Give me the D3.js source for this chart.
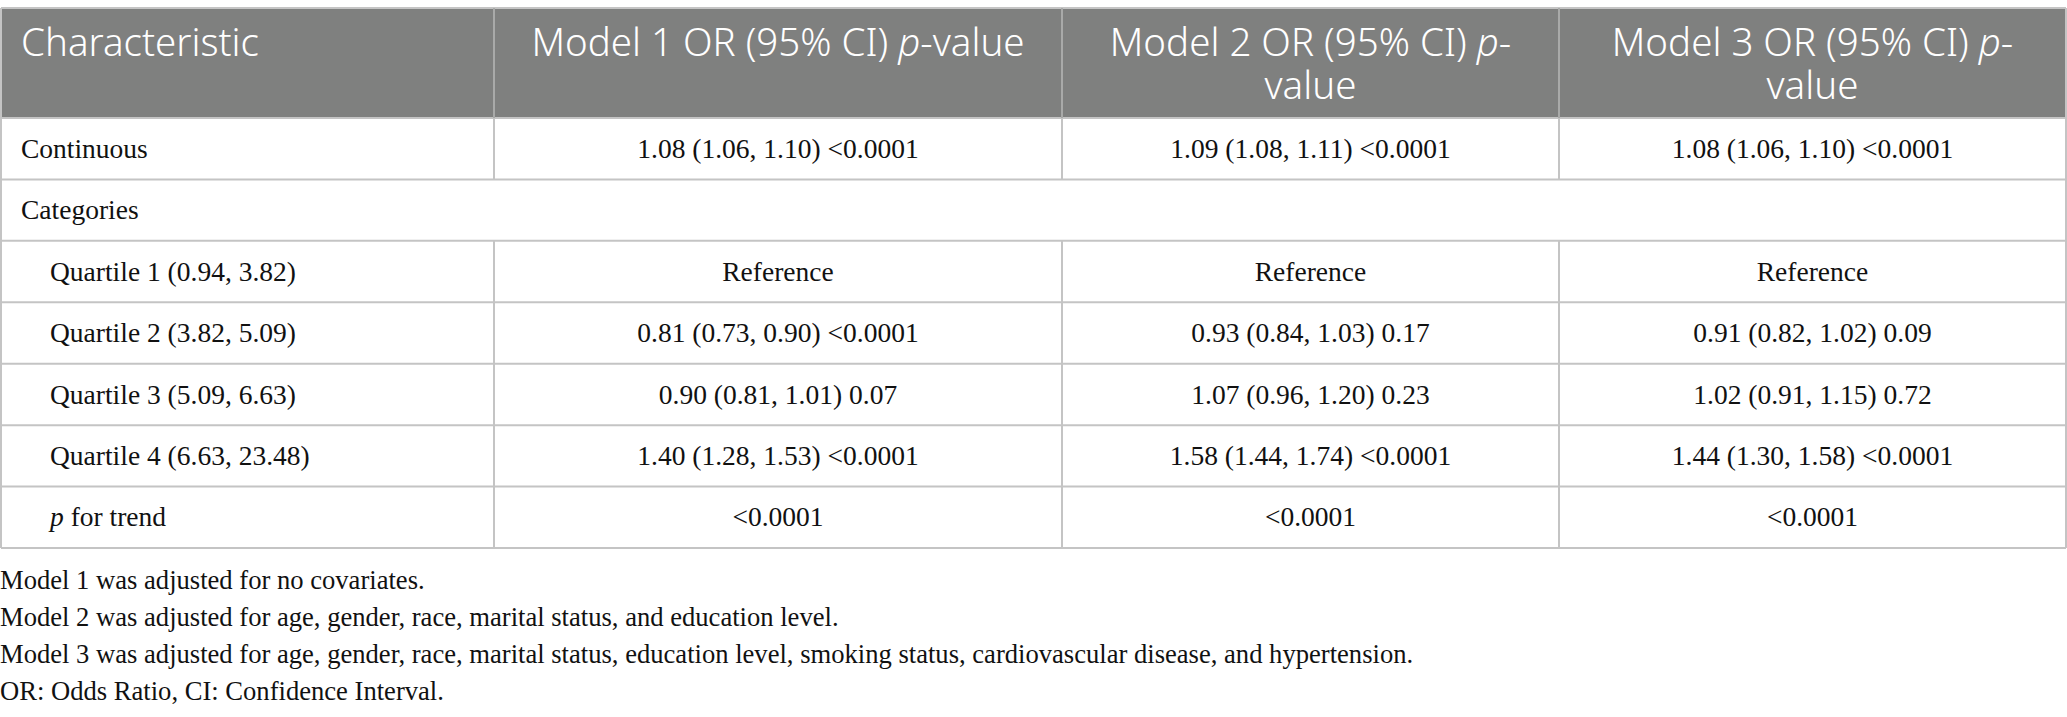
<!DOCTYPE html>
<html>
<head>
<meta charset="utf-8">
<script src="https://cdn.jsdelivr.net/npm/d3@7"></script>
<style>
  html, body { margin: 0; padding: 0; background: #fff; }
  svg { display: block; }
  .head { font-family: "Noto Sans", "Open Sans", sans-serif; font-size: 38.5px; font-weight: 300; fill: #fff; }
  .cell { font-family: "Liberation Serif", "Times New Roman", serif; font-size: 27.5px; fill: #111; }
  .note { font-family: "Liberation Serif", "Times New Roman", serif; font-size: 26.6px; fill: #111; }
</style>
</head>
<body>
<div id="table"></div>
<script>
// header text, *p* marks the italic p
var headers = [
  ["Characteristic"],
  ["Model 1 OR (95% CI) *p*-value"],
  ["Model 2 OR (95% CI) *p*-", "value"],
  ["Model 3 OR (95% CI) *p*-", "value"]
];
var rowLabels = ["Continuous", "Categories", "Quartile 1 (0.94, 3.82)", "Quartile 2 (3.82, 5.09)",
  "Quartile 3 (5.09, 6.63)", "Quartile 4 (6.63, 23.48)", "*p* for trend"];
var indented = [false, false, true, true, true, true, true];
var model1 = ["1.08 (1.06, 1.10) <0.0001", "", "Reference", "0.81 (0.73, 0.90) <0.0001",
  "0.90 (0.81, 1.01) 0.07", "1.40 (1.28, 1.53) <0.0001", "<0.0001"];
var model2 = ["1.09 (1.08, 1.11) <0.0001", "", "Reference", "0.93 (0.84, 1.03) 0.17",
  "1.07 (0.96, 1.20) 0.23", "1.58 (1.44, 1.74) <0.0001", "<0.0001"];
var model3 = ["1.08 (1.06, 1.10) <0.0001", "", "Reference", "0.91 (0.82, 1.02) 0.09",
  "1.02 (0.91, 1.15) 0.72", "1.44 (1.30, 1.58) <0.0001", "<0.0001"];
var spanRows = ["Categories"]; // rows that run across all columns
var footnotes = [
  "Model 1 was adjusted for no covariates.",
  "Model 2 was adjusted for age, gender, race, marital status, and education level.",
  "Model 3 was adjusted for age, gender, race, marital status, education level, smoking status, cardiovascular disease, and hypertension.",
  "OR: Odds Ratio, CI: Confidence Interval."
];

var width = 2067, height = 717;
var headTop = 8, headBottom = 118, tableBottom = 548;
var lineColor = "#c4c4c4";

var svg = d3.select("#table").append("svg")
  .attr("width", width)
  .attr("height", height);

// column edges and row edges
var x = d3.scaleLinear().domain([0, 1, 2, 3, 4]).range([1, 494, 1062, 1559, 2066]);
var y = d3.scaleLinear().domain([0, rowLabels.length]).range([headBottom, tableBottom]);

// writes a string into a text node, turning *p* into italic tspans
function rich(sel, str) {
  str.split(/(\*[^*]+\*)/).forEach(function (part) {
    if (!part) return;
    var italic = part.charAt(0) === "*";
    sel.append("tspan")
      .style("font-style", italic ? "italic" : null)
      .text(italic ? part.slice(1, -1) : part);
  });
}

// header
svg.append("rect")
  .attr("x", x(0)).attr("y", headTop)
  .attr("width", x(4) - x(0)).attr("height", headBottom - headTop)
  .attr("fill", "#7f807f");

headers.forEach(function (lines, c) {
  var cx = c === 0 ? 21 : (x(c) + x(c + 1)) / 2;
  var t = svg.append("text")
    .attr("class", "head")
    .attr("x", cx)
    .attr("y", 56)
    .attr("text-anchor", c === 0 ? "start" : "middle");
  // one text per header cell, one tspan per wrapped line
  lines.forEach(function (line, i) {
    var ln = t.append("tspan")
      .attr("x", cx)
      .attr("dy", i === 0 ? 0 : 43);
    rich(ln, line);
  });
});

// body rows
var columns = [model1, model2, model3];
var rows = svg.selectAll(".row")
  .data(rowLabels)
  .enter().append("g")
  .attr("class", "row")
  .attr("transform", function (d, i) { return "translate(0," + ((y(i) + y(i + 1)) / 2) + ")"; });

rows.append("text")
  .attr("class", "cell")
  .attr("x", function (d, i) { return indented[i] ? 50 : 21; })
  .attr("dy", "0.33em")
  .each(function (d) { rich(d3.select(this), d); });

columns.forEach(function (col, c) {
  rows.append("text")
    .attr("class", "cell")
    .attr("x", (x(c + 1) + x(c + 2)) / 2)
    .attr("dy", "0.33em")
    .attr("text-anchor", "middle")
    .text(function (d, i) { return col[i]; });
});

// grid lines
var grid = svg.append("g")
  .attr("stroke", lineColor)
  .attr("stroke-width", 2)
  .attr("fill", "none");

grid.append("line")
  .attr("x1", x(0)).attr("x2", x(4))
  .attr("y1", headTop).attr("y2", headTop);

d3.range(rowLabels.length + 1).forEach(function (i) {
  grid.append("line")
    .attr("x1", x(0)).attr("x2", x(4))
    .attr("y1", y(i)).attr("y2", y(i));
});

[0, 4].forEach(function (c) {
  grid.append("line")
    .attr("x1", x(c)).attr("x2", x(c))
    .attr("y1", headTop).attr("y2", tableBottom);
});

[1, 2, 3].forEach(function (c) {
  grid.append("line")
    .attr("stroke", "#a9aaa9")
    .attr("x1", x(c)).attr("x2", x(c))
    .attr("y1", headTop).attr("y2", headBottom);
  rowLabels.forEach(function (label, i) {
    if (spanRows.indexOf(label) >= 0) return;
    grid.append("line")
      .attr("x1", x(c)).attr("x2", x(c))
      .attr("y1", y(i)).attr("y2", y(i + 1));
  });
});

// footnotes
svg.selectAll(".note")
  .data(footnotes)
  .enter().append("text")
  .attr("class", "note")
  .attr("x", 0)
  .attr("y", function (d, i) { return 589 + i * 37; })
  .text(function (d) { return d; });
</script>
</body>
</html>
